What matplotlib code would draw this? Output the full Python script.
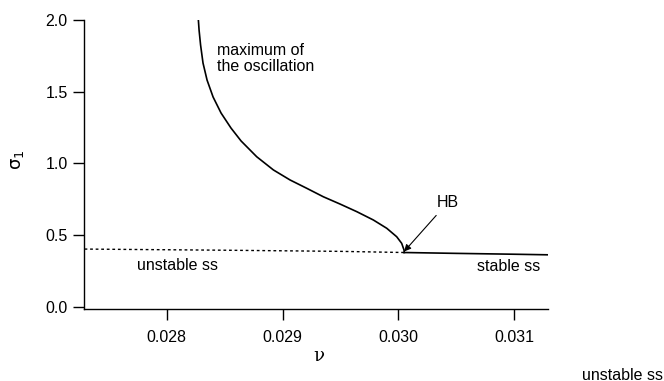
import matplotlib
matplotlib.use("Agg")
import matplotlib.pyplot as plt

plt.rcParams['font.family'] = ['Liberation Sans', 'DejaVu Sans']
plt.rcParams['font.size'] = 11.5

# Data
max_osc_nu = [0.028273, 0.028279, 0.028292, 0.028313, 0.028348, 0.028400, 0.028469,
              0.028555, 0.028642, 0.028777, 0.028921, 0.029065, 0.029209, 0.029352,
              0.029497, 0.029641, 0.029784, 0.029900, 0.029986, 0.030029, 0.030049,
              0.030052]
max_osc_sigma = [2.0, 1.930, 1.826, 1.700, 1.581, 1.463, 1.351,
                 1.246, 1.156, 1.046, 0.954, 0.884, 0.826, 0.767,
                 0.716, 0.663, 0.605, 0.547, 0.488, 0.442, 0.396,
                 0.378]

unstable_nu = [0.02729, 0.0285, 0.0295, 0.03005]
unstable_sigma = [0.402, 0.394, 0.386, 0.378]

stable_nu = [0.03005, 0.0305, 0.031, 0.03129]
stable_sigma = [0.378, 0.372, 0.366, 0.362]

xticks = [0.028, 0.029, 0.030, 0.031]
xticklabels = ['0.028', '0.029', '0.030', '0.031']
yticks = [0.0, 0.5, 1.0, 1.5, 2.0]
yticklabels = ['0.0', '0.5', '1.0', '1.5', '2.0']

fig = plt.figure(figsize=(6.64, 3.81), dpi=100)
ax = fig.add_axes([0.127, 0.189, 0.698, 0.7585])

ax.plot(max_osc_nu, max_osc_sigma, color='black', lw=1.2)
ax.plot(unstable_nu, unstable_sigma, color='black', lw=1.0, linestyle=(0, (2, 2)))
ax.plot(stable_nu, stable_sigma, color='black', lw=1.2)

ax.set_xlim(0.027288, 0.031291)
ax.set_ylim(-0.016, 2.0)
ax.set_xticks(xticks)
ax.set_xticklabels(xticklabels)
ax.set_yticks(yticks)
ax.set_yticklabels(yticklabels)

for s in ['top', 'right']:
    ax.spines[s].set_visible(False)
for s in ['left', 'bottom']:
    ax.spines[s].set_linewidth(1.0)
ax.tick_params(axis='both', direction='out', length=8, width=1.0, color='black')
ax.tick_params(axis='x', pad=7)
ax.tick_params(axis='y', pad=4)

ax.set_xlabel('ν', fontsize=13, family=['DejaVu Serif'])
ax.xaxis.set_label_coords((319 - 84.3) / (547.7 - 84.3), -(347 - 309) / 289.0)
ax.set_ylabel(r'$\mathrm{\sigma}_{\mathrm{1}}$', fontsize=13)
ax.yaxis.set_label_coords(-(84.3 - 26) / (547.7 - 84.3), (309 - 160) / 289.0)

ax.text(0.02843, 1.84, 'maximum of\nthe oscillation', ha='left', va='top', linespacing=1.05)
ax.annotate('HB', xy=(0.03005, 0.385), xytext=(0.03043, 0.73),
            ha='center', va='center',
            arrowprops=dict(arrowstyle='-|>', color='black', lw=0.8,
                            mutation_scale=10, shrinkA=3, shrinkB=0))
ax.text(0.02809, 0.29, 'unstable ss', ha='center', va='center')
ax.text(0.030956, 0.277, 'stable ss', ha='center', va='center')

fig.text(663 / 664, 1.5 / 381, 'unstable ss', ha='right', va='baseline')

fig.savefig('out.png', dpi=100)
